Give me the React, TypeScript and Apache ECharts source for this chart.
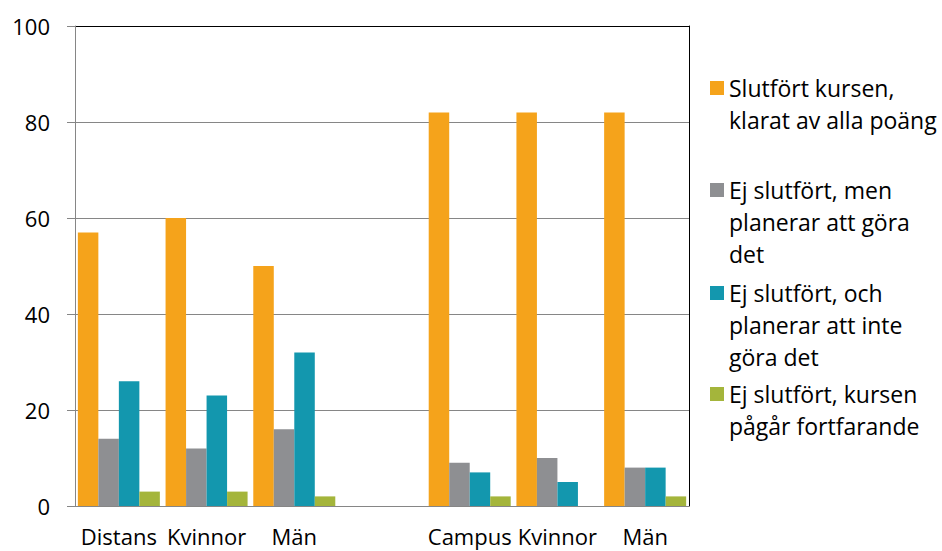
import React, { useEffect, useRef } from 'react';
import * as echarts from 'echarts';

const categories = ['Distans', 'Kvinnor', 'Män', '', 'Campus', 'Kvinnor', 'Män'];
const seriesNames = [
  'Slutfört kursen,\nklarat av alla poäng',
  'Ej slutfört, men\nplanerar att göra\ndet',
  'Ej slutfört, och\nplanerar att inte\ngöra det',
  'Ej slutfört, kursen\npågår fortfarande',
];
const completed = [57, 60, 50, 0, 82, 82, 82];
const notDonePlanning = [14, 12, 16, 0, 9, 10, 8];
const notDoneNotPlanning = [26, 23, 32, 0, 7, 5, 8];
const ongoing = [3, 3, 2, 0, 2, 0, 2];
const seriesValues = [completed, notDonePlanning, notDoneNotPlanning, ongoing];

const yMin = 0;
const yMax = 100;
const yInterval = 20;

const colors = ['#F5A31B', '#8E8F92', '#1397AE', '#A4B53B'];
const FONT = "'Open Sans', sans-serif";
const LH = 32;
const legendIconCenters = [88, 190, 293, 394];

export default function App() {
  const ref = useRef<HTMLDivElement>(null);
  useEffect(() => {
    if (!ref.current) return;
    const chart = echarts.init(ref.current, undefined, { renderer: 'svg' });
    const legends = seriesNames.map((name, i) => {
      const n = name.split('\n').length;
      return {
        data: [name],
        left: 710,
        top: legendIconCenters[i] - ((2 * n - 1) * LH) / 2,
        padding: 0,
        icon: 'rect',
        itemWidth: 14,
        itemHeight: 14,
        selectedMode: false,
        formatter: (nm: string) => '\n'.repeat(n - 1) + nm,
        textStyle: {
          fontFamily: FONT,
          fontSize: 23,
          color: '#000',
          lineHeight: LH,
        },
      };
    });
    const splitColors: string[] = [];
    const nLines = Math.round((yMax - yMin) / yInterval) + 1;
    for (let i = 0; i < nLines; i++) splitColors.push(i === nLines - 1 ? '#000000' : '#868686');
    chart.setOption({
      animation: false,
      color: colors,
      grid: { left: 75, right: 253, top: 26, bottom: 45, containLabel: false },
      legend: legends,
      xAxis: {
        type: 'category',
        data: categories,
        axisLine: { show: true, lineStyle: { color: '#868686', width: 1 } },
        axisTick: { show: false },
        axisLabel: {
          interval: 0,
          fontFamily: FONT,
          fontSize: 22,
          color: '#000',
          margin: 19,
        },
      },
      yAxis: [
        {
          type: 'value',
          min: yMin,
          max: yMax,
          interval: yInterval,
          axisLine: { show: true, lineStyle: { color: '#868686', width: 1 } },
          axisTick: { show: true, length: 8, lineStyle: { color: '#868686' } },
          axisLabel: { fontFamily: FONT, fontSize: 22, color: '#000', margin: 25 },
          splitLine: { show: true, lineStyle: { color: splitColors, width: 1 } },
        },
        {
          type: 'value',
          position: 'right',
          min: yMin,
          max: yMax,
          interval: yInterval,
          axisLine: { show: true, lineStyle: { color: '#000', width: 1 } },
          axisTick: { show: false },
          axisLabel: { show: false },
          splitLine: { show: false },
        },
      ],
      series: seriesNames.map((name, i) => ({
        type: 'bar',
        name,
        data: seriesValues[i],
        barGap: '0%',
        barCategoryGap: '6.5%',
        itemStyle: { color: colors[i] },
      })),
    });
    return () => chart.dispose();
  }, []);
  return (
    <div
      ref={ref}
      style={{ position: 'fixed', left: 0, top: 0, width: 942, height: 551, background: '#fff' }}
    />
  );
}
